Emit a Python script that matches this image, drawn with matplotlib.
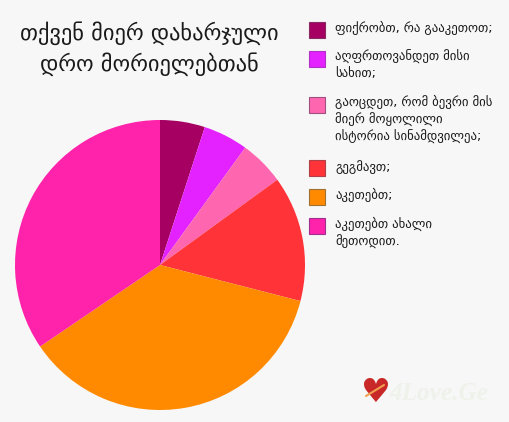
from matplotlib import pyplot as plt
from matplotlib.patches import Rectangle

title = "თქვენ მიერ დახარჯული\nდრო მორიელებთან"
labels = [
    "ფიქრობთ, რა გააკეთოთ;",
    "აღფრთოვანდეთ მისი\nსახით;",
    "გაოცდეთ, რომ ბევრი მის\nმიერ მოყოლილი\nისტორია სინამდვილეა;",
    "გეგმავთ;",
    "აკეთებთ;",
    "აკეთებთ ახალი\nმეთოდით.",
]
values = [5, 5, 5, 14, 36.5, 34.5]
colors = ["#a50062", "#e322ff", "#ff66b0", "#ff3338", "#ff8a00", "#ff22aa"]
edges = ["#8a2a62", "#b030c8", "#a05080", "#b04048", "#a07030", "#a03090"]

W, H = 509, 422
BG = "#f7f7f7"
TXT = "#1a1a1a"
plt.rcParams['font.family'] = ['DejaVu Sans']

fig = plt.figure(figsize=(W / 100, H / 100), dpi=100, facecolor=BG)

# pixel overlay, y goes down like in the picture
over = fig.add_axes([0, 0, 1, 1])
over.set_xlim(0, W)
over.set_ylim(H, 0)
over.axis("off")

# pie centre (160,265), radius 145
ax = fig.add_axes([15 / W, (H - 410) / H, 290 / W, 290 / H])
ax.pie(values, colors=colors, startangle=90, counterclock=False, radius=1)
ax.set_xlim(-1, 1)
ax.set_ylim(-1, 1)

over.text(149, 48.5, title, ha="center", va="center", fontsize=16.1,
          color=TXT, linespacing=1.42)

swatch_y = [22, 51, 97, 160, 189, 218]
text_y = [21, 49.5, 95, 160, 188, 217]
for y, ty, lab, c, e in zip(swatch_y, text_y, labels, colors, edges):
    over.add_patch(Rectangle((309.5, y), 16, 16, facecolor=c, edgecolor=e, linewidth=0.8))
    over.text(335, ty, lab, ha="left", va="top", fontsize=9.2, color=TXT,
              linespacing=1.32)

# watermark
over.text(375, 392, "\u2665", ha="center", va="center", fontsize=24, color="#c82828")
over.plot([366, 384], [396, 385], color="#f0a050", linewidth=1.5, solid_capstyle="round", zorder=4)
over.text(389, 393, "4Love.Ge", ha="left", va="center", fontsize=18.2,
          family="Liberation Serif", style="italic", weight="bold", color="#eef2ea")

fig.savefig("out.png", dpi=100, facecolor=BG)
